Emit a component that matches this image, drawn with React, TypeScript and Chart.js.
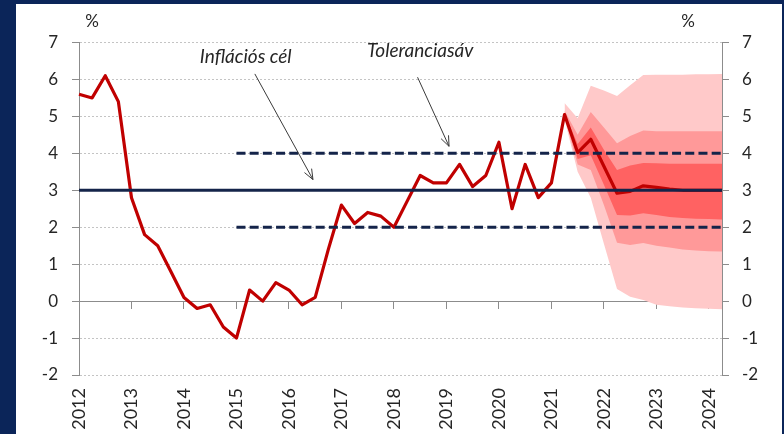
import React, { useEffect, useRef } from "react";
import { Chart, registerables } from "chart.js";

Chart.register(...registerables);

// ---- Data ----
const yearLabels = ["2012", "2013", "2014", "2015", "2016", "2017", "2018", "2019", "2020", "2021", "2022", "2023", "2024"];
const quarterNames = ["Q1", "Q2", "Q3", "Q4"];
// 2012 Q1 ... 2024 Q2
const quarterLabels = yearLabels.flatMap((y) => quarterNames.map((q) => `${y} ${q}`)).slice(0, 50);

// CPI, actual (2012 Q1 – 2021 Q2)
const cpiActual = [
  5.6, 5.5, 6.1, 5.4, 2.8, 1.8, 1.5, 0.8, 0.1, -0.2, -0.1, -0.7,
  -1.0, 0.3, 0.0, 0.5, 0.3, -0.1, 0.1, 1.4, 2.6, 2.1, 2.4, 2.3,
  2.0, 2.7, 3.4, 3.2, 3.2, 3.7, 3.1, 3.4, 4.3, 2.5, 3.7, 2.8,
  3.2, 5.05,
];
// Forecast fan, from 2021 Q2 to 2024 Q2
const fanStartIndex = 37;
const cpiMedian = [5.05, 4.02, 4.38, 3.65, 2.92, 2.97, 3.12, 3.08, 3.03, 3.0, 3.0, 3.0, 3.0];
const fanOuterUpper = [5.36, 4.95, 5.83, 5.7, 5.55, 5.84, 6.12, 6.13, 6.13, 6.13, 6.14, 6.14, 6.15];
const fanMidUpper = [5.15, 4.5, 5.12, 4.7, 4.27, 4.47, 4.62, 4.6, 4.6, 4.6, 4.6, 4.6, 4.6];
const fanInnerUpper = [5.08, 4.25, 4.7, 4.1, 3.55, 3.67, 3.74, 3.73, 3.72, 3.72, 3.72, 3.72, 3.72];
const fanInnerLower = [5.02, 3.85, 3.95, 3.15, 2.33, 2.32, 2.38, 2.33, 2.28, 2.25, 2.23, 2.22, 2.21];
const fanMidLower = [4.98, 3.7, 3.55, 2.6, 1.58, 1.52, 1.57, 1.5, 1.45, 1.4, 1.37, 1.35, 1.34];
const fanOuterLower = [4.92, 3.5, 2.8, 1.55, 0.33, 0.12, 0.03, -0.1, -0.14, -0.17, -0.19, -0.21, -0.22];

const inflationTarget = 3;
const toleranceUpper = 4;
const toleranceLower = 2;
const toleranceStartIndex = 12; // 2015 Q1

const yMin = -2;
const yMax = 7;

const annotations = [
  { text: "Inflációs cél", tx: 12.7, ty: 6.6, fx: 13.4, fy: 6.15, ax: 17.83, ay: 3.29 },
  { text: "Toleranciasáv", tx: 26.0, ty: 6.78, fx: 25.8, fy: 6.06, ax: 28.2, ay: 4.19 },
];

// ---- helpers building the library tables ----
const pad = (arr: number[], start: number) => quarterLabels.map((_, i) => (i >= start && i - start < arr.length ? arr[i - start] : null));
const constLine = (v: number, start: number) => quarterLabels.map((_, i) => (i >= start ? v : null));
const cpiLine = [...cpiActual, ...cpiMedian.slice(1)];

const NAVY = "#14244A";
const RED = "#C00000";
const FONT = "Lato, 'Open Sans', sans-serif";
const TEXT = "#262626";
const AXIS_GRAY = "#8C8C8C";

const overlayPlugin = {
  id: "overlay",
  afterDraw(chart: any) {
    const { ctx, chartArea, scales } = chart;
    const xs = scales.x;
    const ys = scales.y;
    ctx.save();
    // % labels
    ctx.fillStyle = TEXT;
    ctx.font = `17px ${FONT}`;
    ctx.textAlign = "center";
    ctx.textBaseline = "middle";
    ctx.fillText("%", chartArea.left + 13, chartArea.top - 21);
    ctx.fillText("%", chartArea.right - 34, chartArea.top - 21);
    // annotations
    for (const a of annotations) {
      ctx.font = `italic 19px ${FONT}`;
      ctx.fillStyle = TEXT;
      ctx.fillText(a.text, xs.getPixelForValue(a.tx), ys.getPixelForValue(a.ty));
      const x1 = xs.getPixelForValue(a.fx);
      const y1 = ys.getPixelForValue(a.fy);
      const x2 = xs.getPixelForValue(a.ax);
      const y2 = ys.getPixelForValue(a.ay);
      ctx.strokeStyle = "#3A3A3A";
      ctx.lineWidth = 1;
      ctx.beginPath();
      ctx.moveTo(x1, y1);
      ctx.lineTo(x2, y2);
      const ang = Math.atan2(y2 - y1, x2 - x1);
      const hl = 11;
      const spread = 0.38;
      ctx.moveTo(x2 - hl * Math.cos(ang - spread), y2 - hl * Math.sin(ang - spread));
      ctx.lineTo(x2, y2);
      ctx.lineTo(x2 - hl * Math.cos(ang + spread), y2 - hl * Math.sin(ang + spread));
      ctx.stroke();
    }
    ctx.restore();
  },
};

export default function App() {
  const ref = useRef<HTMLCanvasElement>(null);

  useEffect(() => {
    if (!ref.current) return;
    const lineBase = { pointRadius: 0, pointHoverRadius: 0, tension: 0, spanGaps: false };
    const bound = (data: (number | null)[], fill: any, color: string) => ({
      ...lineBase,
      data,
      borderWidth: 0,
      borderColor: "rgba(0,0,0,0)",
      backgroundColor: color,
      fill,
    });

    const chart = new Chart(ref.current, {
      type: "line",
      data: {
        labels: quarterLabels,
        datasets: [
          { ...lineBase, label: "Inflációs cél", data: constLine(inflationTarget, 0), borderColor: NAVY, borderWidth: 3, fill: false },
          { ...lineBase, label: "Toleranciasáv felső", data: constLine(toleranceUpper, toleranceStartIndex), borderColor: NAVY, borderWidth: 3, borderDash: [9, 4.2], borderCapStyle: "butt", fill: false },
          { ...lineBase, label: "Toleranciasáv alsó", data: constLine(toleranceLower, toleranceStartIndex), borderColor: NAVY, borderWidth: 3, borderDash: [9, 4.2], borderCapStyle: "butt", fill: false },
          { ...lineBase, label: "Infláció", data: cpiLine, borderColor: RED, borderWidth: 3.2, borderJoinStyle: "round", fill: false },
          bound(pad(fanInnerUpper, fanStartIndex), "+1", "#FF6262"),
          bound(pad(fanInnerLower, fanStartIndex), false, "#FF6262"),
          bound(pad(fanMidUpper, fanStartIndex), "+1", "#FF9999"),
          bound(pad(fanMidLower, fanStartIndex), false, "#FF9999"),
          bound(pad(fanOuterUpper, fanStartIndex), "+1", "#FFC9C9"),
          bound(pad(fanOuterLower, fanStartIndex), false, "#FFC9C9"),
        ],
      },
      options: {
        animation: false,
        responsive: false,
        maintainAspectRatio: false,
        events: [],
        layout: { padding: { top: 38.5, left: 0, right: 0, bottom: 0 } },
        plugins: {
          legend: { display: false },
          tooltip: { enabled: false },
          title: { display: false },
          filler: { propagate: false },
        },
        scales: {
          x: {
            type: "category",
            position: "bottom",
            offset: false,
            grid: { display: false, drawTicks: false },
            border: { display: false },
            ticks: {
              autoSkip: false,
              minRotation: 90,
              maxRotation: 90,
              padding: 13,
              color: TEXT,
              font: { family: FONT, size: 18 },
              callback: (_v: any, i: number) => (i % 4 === 0 ? quarterLabels[i].slice(0, 4) : null),
            },
            afterFit: (s: any) => { s.height = 59; },
          },
          xz: {
            type: "category",
            position: { y: 0 } as any,
            offset: false,
            grid: {
              display: true,
              drawOnChartArea: false,
              drawTicks: true,
              tickLength: 7,
              tickWidth: 1,
              tickColor: (c: any) => (c.index % 4 === 0 ? AXIS_GRAY : "rgba(0,0,0,0)"),
            },
            border: { display: true, color: AXIS_GRAY, width: 1 },
            ticks: { display: false, autoSkip: false },
          },
          y: {
            type: "linear",
            position: "left",
            min: yMin,
            max: yMax,
            grid: {
              color: "#C4C4C4",
              lineWidth: 1,
              tickLength: 7,
              tickColor: AXIS_GRAY,
              tickBorderDash: [],
            },
            border: { display: true, color: AXIS_GRAY, width: 1, dash: [2, 2] },
            ticks: { stepSize: 1, padding: 14, color: TEXT, font: { family: FONT, size: 17 } },
            afterFit: (s: any) => { s.width = 63; },
          },
          y2: {
            type: "linear",
            position: "right",
            min: yMin,
            max: yMax,
            grid: { drawOnChartArea: false, tickLength: 7, tickColor: AXIS_GRAY },
            border: { display: true, color: AXIS_GRAY, width: 1 },
            ticks: { stepSize: 1, padding: 13, color: TEXT, font: { family: FONT, size: 17 } },
            afterFit: (s: any) => { s.width = 60; },
          },
        },
      } as any,
      plugins: [overlayPlugin],
    });
    return () => chart.destroy();
  }, []);

  return (
    <div style={{ position: "fixed", left: 0, top: 0, width: 784, height: 434, background: "#0B2559" }}>
      <div style={{ position: "absolute", left: 16, top: 4, width: 766, height: 430, background: "#FFFFFF" }}>
        <canvas ref={ref} width={766} height={430} style={{ display: "block", width: 766, height: 430 }} />
      </div>
    </div>
  );
}
